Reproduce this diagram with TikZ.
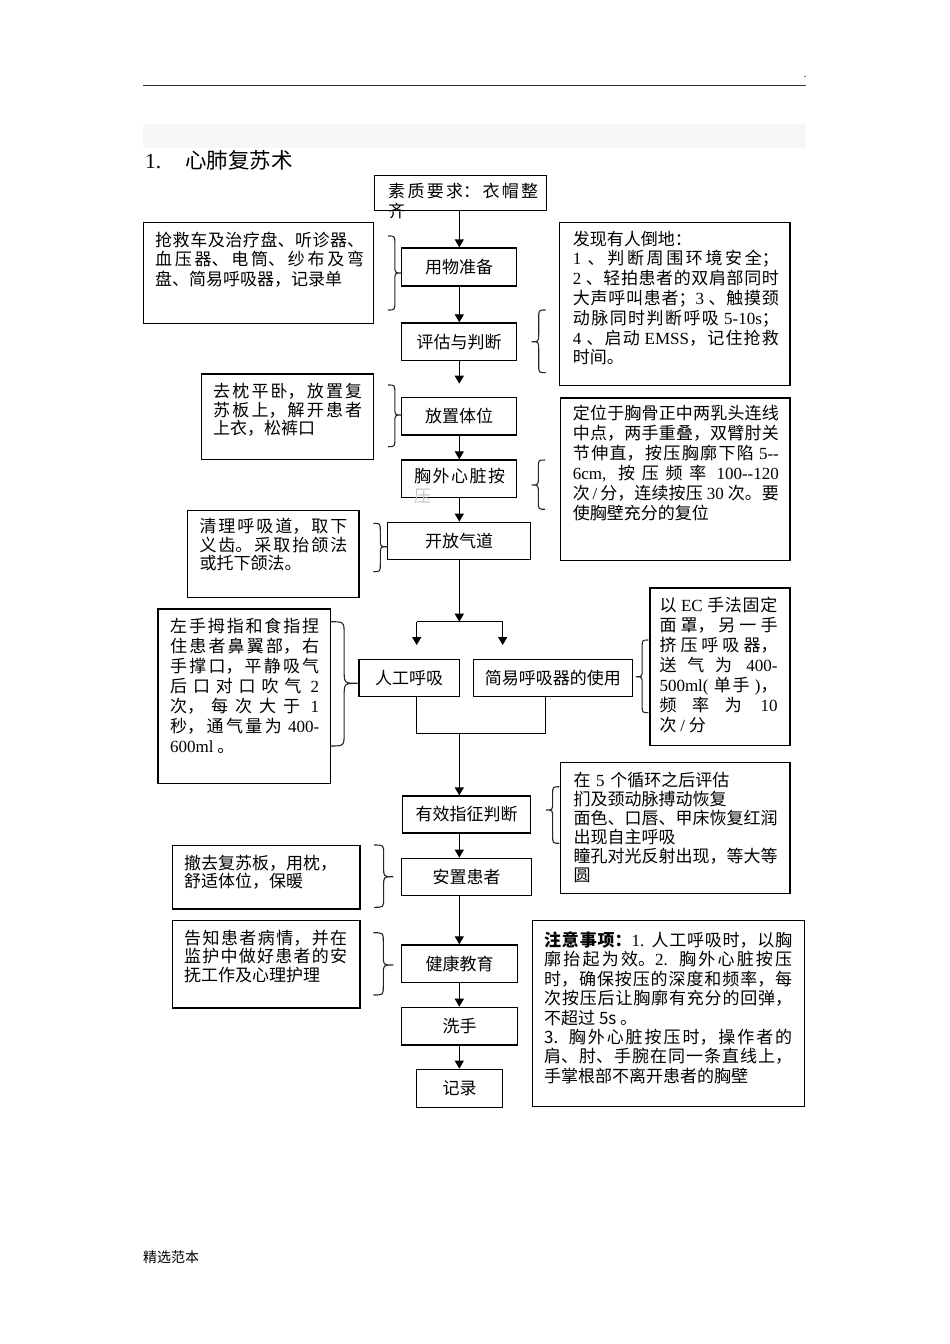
\documentclass[tikz,border=0pt]{standalone}
\usepackage{fontspec}
\setmainfont{Noto Sans CJK SC}
\newfontfamily\lat{Liberation Serif}
\usetikzlibrary{arrows.meta}
\XeTeXlinebreaklocale "zh"
\XeTeXlinebreakskip=0pt plus 2pt
\newcommand\Lt[1]{{\lat #1}}
\newcommand\Brc[6]{%
 \draw[brc] (#1,#3) .. controls ({(#1+#2)/2},#3) .. ({(#1+#2)/2},{#3+#6}) -- ({(#1+#2)/2},{#5-#6}) .. controls ({(#1+#2)/2},#5) .. (#2,#5) .. controls ({(#1+#2)/2},#5) .. ({(#1+#2)/2},{#5+#6}) -- ({(#1+#2)/2},{#4-#6}) .. controls ({(#1+#2)/2},#4) .. (#1,#4);}
\tikzset{
 box/.style={draw, line width=1.3pt, inner sep=0pt},
 flow/.style={box, font={\fontsize{17pt}{19.6pt}\selectfont}, align=center},
 sbox/.style={box, anchor=north west},
 stext/.style={anchor=north west, inner sep=0pt, align=justify, font={\fontsize{17pt}{#1pt}\selectfont}},
 arr/.style={line width=1.3pt, -{Triangle[length=8pt,width=9pt]}},
 ln/.style={line width=1.3pt},
 brc/.style={line width=1.1pt, black!85},
}
\begin{document}
\begin{tikzpicture}[x=1pt,y=-1pt]
\fill[white] (0,0) rectangle (950,1344);
\useasboundingbox (0,0) rectangle (950,1344);
% page header
\draw[line width=1.6pt, black!80] (143,85.5) -- (806,85.5);
\node[font={\fontsize{9pt}{9pt}\selectfont}, inner sep=0pt] (dot) at (805,77) {.};
\fill[black!3] (143,124) rectangle (806,148);
\node[anchor=west, inner sep=0pt, font={\fontsize{21.5pt}{24pt}\selectfont}] (title) at (145,160) {\makebox[40pt][l]{\Lt{1.}}心肺复苏术};
\node[anchor=west, inner sep=0pt, font={\fontsize{14pt}{16pt}\selectfont}] (foot) at (143,1257) {精选范本};
\coordinate (ax) at (459.3,0);

% flow boxes
\node[sbox, minimum width=172pt, minimum height=35pt] (zhi) at (374,175) {};
\node[stext=20, text width=150pt] (zhit) at (388,182.5) {素质要求：衣帽整\linebreak 齐};
\node[flow, minimum width=115pt, minimum height=38pt] (yongwu) at (459.2,267) {用物准备};
\node[flow, minimum width=115pt, minimum height=37.7pt] (pinggu) at (459.2,341.8) {评估与判断};
\node[flow, minimum width=115pt, minimum height=37.7pt] (fangzhi) at (459.2,416.2) {放置体位};
\node[flow, minimum width=115pt, minimum height=37.3pt] (xiongwai) at (459.2,478.6) {};
\node[stext=20, text width=91pt] (xiongwait) at (414,468.2) {胸外心脏按\linebreak {\color{black!22}压}};
\node[flow, minimum width=143.4pt, minimum height=37pt] (kaifang) at (459,540.8) {开放气道};
\node[flow, minimum width=100.3pt, minimum height=37.4pt] (rengong) at (409.2,678) {人工呼吸};
\node[flow, minimum width=159pt, minimum height=37.4pt] (jianyi) at (552.8,678) {简易呼吸器的使用};
\node[flow, minimum width=128.4pt, minimum height=37pt] (youxiao) at (466.5,814.5) {有效指征判断};
\node[flow, minimum width=130pt, minimum height=37.4pt] (anzhi) at (466.7,877) {安置患者};
\node[flow, minimum width=115.6pt, minimum height=37.3pt] (jiankang) at (459.5,963.6) {健康教育};
\node[flow, minimum width=115.6pt, minimum height=37.7pt] (xishou) at (459.5,1026.2) {洗手};
\node[flow, minimum width=86pt, minimum height=38pt] (jilu) at (459.7,1088.3) {记录};

% connectors
\draw[arr] (zhi.south -| ax) -- (yongwu.north -| ax);
\draw[arr] (yongwu.south -| ax) -- (pinggu.north -| ax);
\draw[arr, shorten >=13pt] (pinggu.south -| ax) -- (fangzhi.north -| ax);
\draw[arr] (fangzhi.south -| ax) -- (xiongwai.north -| ax);
\draw[arr] (xiongwai.south -| ax) -- (kaifang.north -| ax);
\coordinate (split) at (459.3,621.7);
\coordinate (sl) at (416.7,621.7);
\coordinate (sr) at (502.7,621.7);
\draw[arr] (kaifang.south -| ax) -- (split);
\draw[ln] (sl) -- (sr);
\draw[arr, shorten >=13.6pt] (sl) -- (sl |- rengong.north);
\draw[arr, shorten >=13.6pt] (sr) -- (sr |- jianyi.north);
\coordinate (ml) at (416.7,733.3);
\coordinate (mr) at (545.7,733.3);
\draw[ln] (ml |- rengong.south) -- (ml) -- (mr) -- (mr |- jianyi.south);
\draw[arr] (ml -| ax) -- (youxiao.north -| ax);
\draw[arr] (youxiao.south -| ax) -- (anzhi.north -| ax);
\draw[arr] (anzhi.south -| ax) -- (jiankang.north -| ax);
\draw[arr] (jiankang.south -| ax) -- (xishou.north -| ax);
\draw[arr] (xishou.south -| ax) -- (jilu.north -| ax);

% side boxes
\node[sbox, minimum width=230pt, minimum height=100.7pt] (qj) at (143,222) {};
\node[stext=19.5, text width=209pt] (qjt) at (155,231.5) {抢救车及治疗盘、听诊器、\linebreak 血压器、电筒、纱布及弯\linebreak 盘、简易呼吸器，记录单};

\node[sbox, minimum width=230.3pt, minimum height=163pt] (fx) at (559,222) {};
\node[stext=19.8, text width=206pt] (fxt) at (572.7,230.5) {发现有人倒地：\newline
\Lt{1} 、判断周围环境安全；\linebreak
\Lt{2} 、轻拍患者的双肩部同时\linebreak
大声呼叫患者；\Lt{3} 、触摸颈\linebreak
动脉同时判断呼吸 \Lt{5-10s}；\linebreak
\Lt{4} 、启动 \Lt{EMSS}，记住抢救\linebreak
时间。};

\node[sbox, minimum width=172pt, minimum height=85.7pt] (qz) at (200.7,373.3) {};
\node[stext=18.4, text width=149pt] (qzt) at (213,383.2) {去枕平卧，放置复\linebreak 苏板上，解开患者\linebreak 上衣，松裤口};

\node[sbox, minimum width=229.3pt, minimum height=162.7pt] (dw) at (560,397.3) {};
\node[stext=20, text width=206pt] (dwt) at (572.7,404.8) {定位于胸骨正中两乳头连线\linebreak
中点，两手重叠，双臂肘关\linebreak
节伸直，按压胸廓下陷 \Lt{5-{}-}\linebreak
\Lt{6cm,} 按压频率 \Lt{100-{}-120}\linebreak
次\,\Lt{/}\,分，连续按压 \Lt{30} 次。要\linebreak
使胸壁充分的复位};

\node[sbox, minimum width=171.6pt, minimum height=86.7pt] (ql) at (186.7,510) {};
\node[stext=18.4, text width=148pt] (qlt) at (199.3,518.2) {清理呼吸道，取下\linebreak 义齿。采取抬颌法\linebreak 或托下颌法。};

\node[sbox, minimum width=172.7pt, minimum height=174.7pt] (zs) at (157.3,608.3) {};
\node[stext=20, text width=149pt] (zst) at (170,617.5) {左手拇指和食指捏\linebreak
住患者鼻翼部，右\linebreak
手撑口，平静吸气\linebreak
后口对口吹气 \Lt{2}\linebreak
次，每次大于 \Lt{1}\linebreak
秒，通气量为 \Lt{400-}\linebreak
\Lt{600ml} 。};

\node[sbox, minimum width=140pt, minimum height=157.7pt] (ec) at (649.3,587.3) {};
\node[stext=20, text width=118pt] (ect) at (659.3,596.5) {以 \Lt{EC} 手法固定\linebreak
面罩，另一手\linebreak
挤压呼吸器，\linebreak
送气为 \Lt{400-}\linebreak
\Lt{500ml(} 单手 \Lt{)}，\linebreak
频率为 \Lt{10}\linebreak
次 \Lt{/} 分};

\node[sbox, minimum width=229.3pt, minimum height=131.3pt] (z5) at (560,761.7) {};
\node[stext=19, text width=210pt, align=left] (z5t) at (573.3,771.5) {在 \Lt{5} 个循环之后评估\\ 扪及颈动脉搏动恢复\\ 面色、口唇、甲床恢复红润\\ 出现自主呼吸\\ 瞳孔对光反射出现，等大等\\ 圆};

\node[sbox, minimum width=187.6pt, minimum height=63.3pt] (cq) at (171.7,845) {};
\node[stext=18.4, text width=165pt, align=left] (cqt) at (184,854.8) {撤去复苏板，用枕，\\ 舒适体位，保暖};

\node[sbox, minimum width=187.6pt, minimum height=87.3pt] (gz) at (171.7,920) {};
\node[stext=18.4, text width=163pt] (gzt) at (184,929.8) {告知患者病情，并在\linebreak 监护中做好患者的安\linebreak 抚工作及心理护理};

\node[sbox, minimum width=272.3pt, minimum height=186pt] (zy) at (531.7,920) {};
\node[stext=19.4, text width=248pt] (zyt) at (544,931.5) {\textbf{注意事项：}\Lt{1.} 人工呼吸时，以胸\linebreak
廓抬起为效。\Lt{2.} 胸外心脏按压\linebreak
时，确保按压的深度和频率，每\linebreak
次按压后让胸廓有充分的回弹，\linebreak
不超过 5s 。\newline
3. 胸外心脏按压时，操作者的\linebreak
肩、肘、手腕在同一条直线上，\linebreak
手掌根部不离开患者的胸壁};

% braces
\Brc{388}{401.7}{236}{310}{273}{8}
\Brc{545.7}{531.7}{310}{372.7}{341.7}{8}
\Brc{388}{401.7}{385}{446.7}{415}{8}
\Brc{545}{531.7}{460}{509.3}{485}{8}
\Brc{373.3}{387.3}{523.3}{571.7}{546.7}{8}
\Brc{330}{358.3}{621.7}{746}{683.3}{13}
\Brc{648.3}{636}{640}{712.7}{676.7}{8}
\Brc{559.3}{546}{786.7}{843.3}{810}{8}
\Brc{374}{393.3}{845}{907.3}{876.7}{9}
\Brc{373.3}{393.3}{932.7}{995}{965}{9}
\end{tikzpicture}
\end{document}
